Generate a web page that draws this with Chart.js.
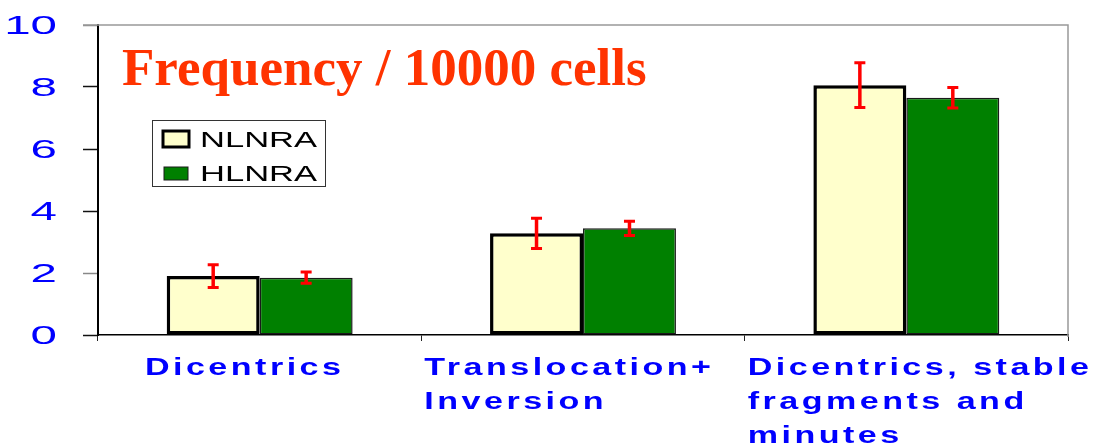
<!DOCTYPE html>
<html>
<head>
<meta charset="utf-8">
<script src="https://cdn.jsdelivr.net/npm/chart.js@4/dist/chart.umd.min.js"></script>
<style>
  body { margin: 0; background: #fff; }
  canvas { display: block; }
</style>
</head>
<body>
<canvas id="chart" width="1093" height="444"></canvas>
<script>
// categories (multi-line labels)
const categories = [
    ["Dicentrics"],
    ["Translocation+", "Inversion"],
    ["Dicentrics, stable", "fragments and", "minutes"]
];
const seriesNames = ["NLNRA", "HLNRA"];
const nlnraValues = [1.9, 3.28, 8.06];
const nlnraErrors = [0.37, 0.49, 0.72];
const hlnraValues = [1.85, 3.44, 7.65];
const hlnraErrors = [0.18, 0.23, 0.33];
const yTicks = [0, 2, 4, 6, 8, 10];
const titleText = "Frequency / 10000 cells";

const BLUE = "#0000FF";

// error bars on top of each bar
const errorBars = {
    id: "errorBars",
    afterDatasetsDraw(chart) {
        const ctx = chart.ctx;
        const y = chart.scales.y;
        ctx.save();
        ctx.strokeStyle = "#FF0000";
        chart.data.datasets.forEach((ds, di) => {
            const meta = chart.getDatasetMeta(di);
            meta.data.forEach((bar, i) => {
                const v = ds.data[i], e = ds.errors[i];
                const top = y.getPixelForValue(v + e);
                const bot = y.getPixelForValue(v - e);
                ctx.lineWidth = 3.5;
                ctx.beginPath();
                ctx.moveTo(bar.x, top);
                ctx.lineTo(bar.x, bot);
                ctx.stroke();
                ctx.lineWidth = 3;
                ctx.beginPath();
                ctx.moveTo(bar.x - 5.5, top);
                ctx.lineTo(bar.x + 5.5, top);
                ctx.moveTo(bar.x - 5.5, bot);
                ctx.lineTo(bar.x + 5.5, bot);
                ctx.stroke();
            });
        });
        ctx.restore();
    }
};

// draw text stretched horizontally
function wideText(ctx, text, x, y, sx) {
    ctx.save();
    ctx.translate(x, y);
    ctx.scale(sx, 1);
    ctx.fillText(text, 0, 0);
    ctx.restore();
}

// frame, tick labels, title and legend
const decorations = {
    id: "decorations",
    afterDraw(chart) {
        const ctx = chart.ctx;
        const area = chart.chartArea;
        const xs = chart.scales.x, ys = chart.scales.y;
        ctx.save();

        // gray top + right frame
        ctx.strokeStyle = "#999";
        ctx.lineWidth = 1.5;
        ctx.beginPath();
        ctx.moveTo(area.left - 15, area.top);
        ctx.lineTo(area.right, area.top);
        ctx.lineTo(area.right, area.bottom + 2);
        ctx.stroke();

        // y tick labels (wide digits)
        ctx.fillStyle = BLUE;
        ctx.font = "25px 'Liberation Sans', Arial, sans-serif";
        ctx.textAlign = "right";
        ctx.textBaseline = "alphabetic";
        ys.ticks.forEach(t => {
            const py = ys.getPixelForValue(t.value);
            wideText(ctx, String(t.value), 57, py + 9, 1.9);
        });

        // x labels, left aligned block, never left of its own category slot
        const sx = 1.45;
        ctx.font = "bold 23.5px 'Liberation Sans', Arial, sans-serif";
        ctx.letterSpacing = "2.4px";
        ctx.textAlign = "left";
        categories.forEach((lines, i) => {
            const cx = xs.getPixelForValue(i);
            const slotLeft = xs.getPixelForValue(i - 0.5);
            const w = sx * Math.max(...lines.map(l => ctx.measureText(l).width));
            const left = Math.max(cx - w / 2 - 15, slotLeft + 3);
            lines.forEach((l, j) => {
                wideText(ctx, l, left, area.bottom + 40 + j * 34, sx);
            });
        });
        ctx.letterSpacing = "0px";

        // title
        ctx.fillStyle = "#FF3300";
        ctx.font = "bold 53px 'Liberation Serif', 'Times New Roman', serif";
        ctx.fillText(titleText, 122, 85);

        // legend
        ctx.fillStyle = "#fff";
        ctx.fillRect(152, 120, 173, 66);
        ctx.strokeStyle = "#333";
        ctx.lineWidth = 1;
        ctx.strokeRect(152.5, 120.5, 173, 66);
        const sw = [[163, 131, 26, 16], [164, 167, 24, 13]];
        const base = [147, 181];
        chart.data.datasets.forEach((ds, di) => {
            const r = sw[di];
            ctx.fillStyle = ds.backgroundColor;
            ctx.fillRect(r[0], r[1], r[2], r[3]);
            ctx.strokeStyle = ds.borderColor;
            ctx.lineWidth = di === 0 ? 3 : 1;
            ctx.strokeRect(r[0], r[1], r[2], r[3]);
            ctx.fillStyle = "#000";
            ctx.font = "22px 'Liberation Sans', Arial, sans-serif";
            wideText(ctx, ds.label, 200, base[di], 1.57);
        });

        ctx.restore();
    }
};

new Chart(document.getElementById("chart").getContext("2d"), {
    type: "bar",
    data: {
        labels: categories,
        datasets: [
            {
                label: seriesNames[0],
                data: nlnraValues,
                errors: nlnraErrors,
                backgroundColor: "#FFFFCC",
                borderColor: "#000000",
                borderWidth: 3.5,
                borderSkipped: false
            },
            {
                label: seriesNames[1],
                data: hlnraValues,
                errors: hlnraErrors,
                backgroundColor: "#008000",
                borderColor: "#1a1a1a",
                borderWidth: 1.5,
                borderSkipped: false
            }
        ]
    },
    options: {
        responsive: false,
        animation: false,
        layout: { padding: { top: 25, right: 25, left: 0, bottom: 0 } },
        datasets: { bar: { categoryPercentage: 0.575, barPercentage: 1 } },
        plugins: {
            legend: { display: false },
            tooltip: { enabled: false }
        },
        scales: {
            x: {
                ticks: { display: false },
                grid: {
                    offset: true,
                    drawOnChartArea: false,
                    drawTicks: true,
                    tickLength: 6,
                    tickColor: "#222"
                },
                border: { color: "#000", width: 1.5 },
                afterFit: s => { s.height = 109; }
            },
            y: {
                min: 0,
                max: 10,
                afterBuildTicks: s => { s.ticks = yTicks.map(v => ({ value: v })); },
                ticks: { display: false },
                grid: {
                    drawOnChartArea: false,
                    drawTicks: true,
                    tickLength: 15,
                    tickColor: c => (c.tick && (c.tick.value === 10 || c.tick.value === 2)) ? "#888" : "#111",
                    tickWidth: 1.5
                },
                border: { color: "#000", width: 2 },
                afterFit: s => { s.width = 98; }
            }
        }
    },
    plugins: [errorBars, decorations]
});
</script>
</body>
</html>
